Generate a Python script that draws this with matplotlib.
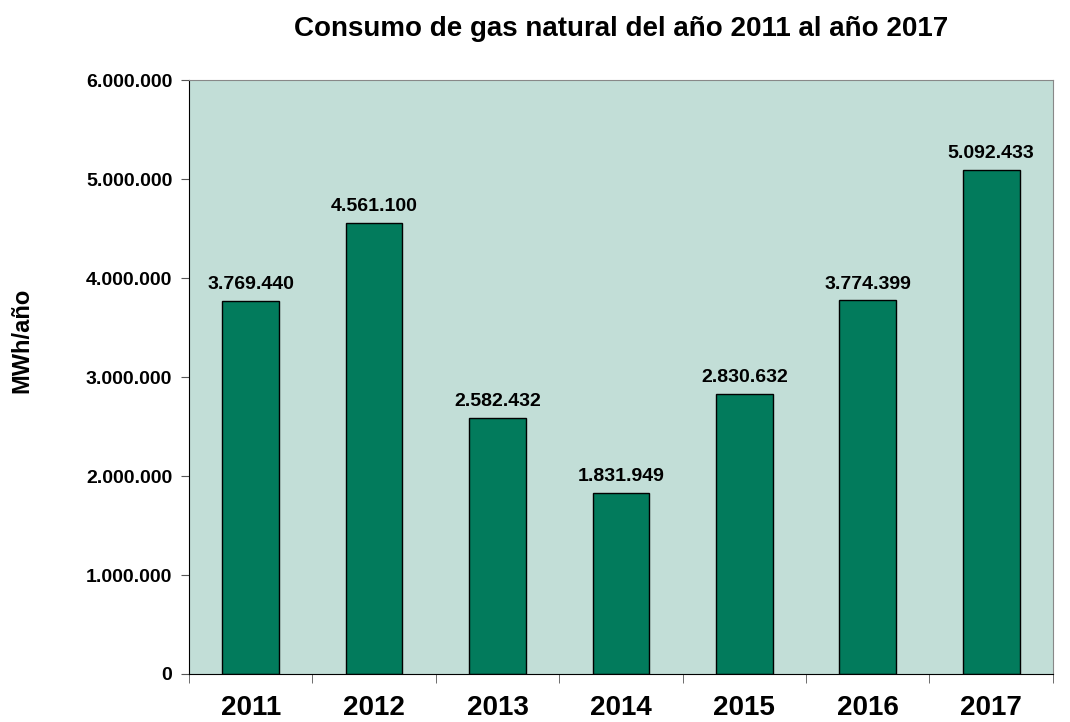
import matplotlib.pyplot as plt
from matplotlib.ticker import FuncFormatter

plt.rcParams['font.family'] = ['Liberation Sans', 'DejaVu Sans']
plt.rcParams['font.weight'] = 'bold'

years = ['2011', '2012', '2013', '2014', '2015', '2016', '2017']
consumo = [3769440, 4561100, 2582432, 1831949, 2830632, 3774399, 5092433]


def miles(v, pos=None):
    return f"{int(round(v)):,}".replace(',', '.')


fig = plt.figure(figsize=(10.7, 7.22), dpi=100)
ax = fig.add_axes([0.1766, 0.0665, 0.8074, 0.8225])
ax.set_facecolor('#C2DED7')

x = range(len(years))
bars = ax.bar(x, consumo, width=0.46, color='#027B5C', edgecolor='black', linewidth=1)
for b, v in zip(bars, consumo):
    ax.text(b.get_x() + b.get_width() / 2, v + 80000, miles(v),
            ha='center', va='bottom', fontsize=14, fontweight='bold')

ax.set_xlim(-0.5, len(years) - 0.5)
ax.set_ylim(0, 6000000)
ax.set_yticks(range(0, 6000001, 1000000))
ax.yaxis.set_major_formatter(FuncFormatter(miles))
ax.set_xticks(list(x))
ax.set_xticklabels(years, fontsize=20, fontweight='bold')
ax.set_xticks([i - 0.5 for i in range(len(years) + 1)], minor=True)
ax.tick_params(axis='x', which='major', length=0, pad=15)
ax.tick_params(axis='x', which='minor', length=6.5, color='#555555')
ax.tick_params(axis='y', length=6, labelsize=14, color='#555555', pad=6)

for s in ['top', 'right']:
    ax.spines[s].set_color('#888888')
for s in ['left', 'bottom']:
    ax.spines[s].set_color('black')

fig.text(0.0206, 0.529, 'MWh/año', rotation=90, ha='center', va='center',
         fontsize=17, fontweight='bold')
ax.set_title('Consumo de gas natural del año 2011 al año 2017',
             fontsize=20, fontweight='bold', pad=32)

fig.savefig('out.png', dpi=100)
